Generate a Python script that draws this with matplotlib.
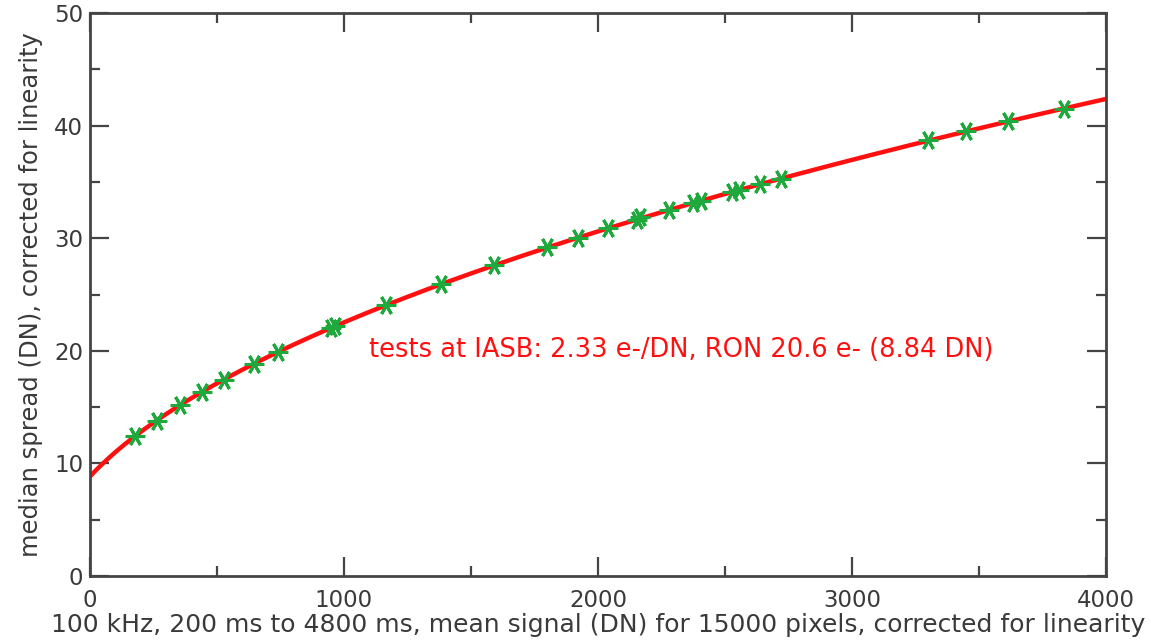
import numpy as np
import matplotlib
matplotlib.use("Agg")
import matplotlib.pyplot as plt

# measured points: mean signal (DN) vs median spread (DN)
signal = [177, 263, 354, 440, 527, 644, 739, 950, 965, 1167, 1383, 1591, 1800,
          1921, 2039, 2155, 2165, 2279, 2373, 2405, 2527, 2554, 2640, 2719,
          3300, 3450, 3615, 3835]
spread = [12.4, 13.8, 15.2, 16.3, 17.4, 18.8, 19.9, 22.0, 22.2, 24.1, 25.9, 27.6,
          29.2, 30.0, 30.9, 31.6, 31.9, 32.5, 33.1, 33.3, 34.1, 34.3, 34.8, 35.3,
          38.7, 39.5, 40.4, 41.5]

# fit parameters from the IASB tests
gain = 2.33      # e-/DN
ron_e = 20.6     # e-
ron_dn = 8.84    # DN

txt = '#3a3a3a'
plt.rcParams['font.family'] = ['DejaVu Sans']

fig = plt.figure(figsize=(11.51, 6.41), dpi=100)
ax = fig.add_axes([0.0782, 0.1014, 0.8826, 0.8783])

xs = np.linspace(0, 4000, 400)
ax.plot(xs, np.sqrt(ron_dn ** 2 + xs / gain), color='#ff1010', lw=3.2, zorder=2)
ax.plot(signal, spread, linestyle='none', marker=(6, 2, 90), ms=14, mew=2.2,
        color='#1fa83c', zorder=3)

ax.text(1100, 20.1, f'tests at IASB: {gain} e-/DN, RON {ron_e} e- ({ron_dn} DN)',
        color='#ff1010', fontsize=18.5, va='center', ha='left')

ax.set_xlim(0, 4000)
ax.set_ylim(0, 50)
ax.set_xticks([0, 1000, 2000, 3000, 4000])
ax.set_xticks(np.arange(0, 4001, 500), minor=True)
ax.set_yticks([0, 10, 20, 30, 40, 50])
ax.set_yticks(np.arange(0, 51, 5), minor=True)
ax.tick_params(which='both', direction='in', top=True, right=True,
               color='#444', width=1.6, labelsize=16.5, labelcolor=txt)
ax.tick_params(which='major', length=14)
ax.tick_params(which='minor', length=7)
ax.tick_params(axis='x', pad=9)
ax.tick_params(axis='y', pad=5)
for s in ax.spines.values():
    s.set_color('#444')
    s.set_linewidth(2)

ax.set_xlabel('100 kHz, 200 ms to 4800 ms, mean signal (DN) for 15000 pixels, corrected for linearity',
              fontsize=18, color=txt, labelpad=1)
ax.set_ylabel('median spread (DN), corrected for linearity', fontsize=17.5,
              color=txt, labelpad=8)

fig.savefig('out.png', dpi=100)
